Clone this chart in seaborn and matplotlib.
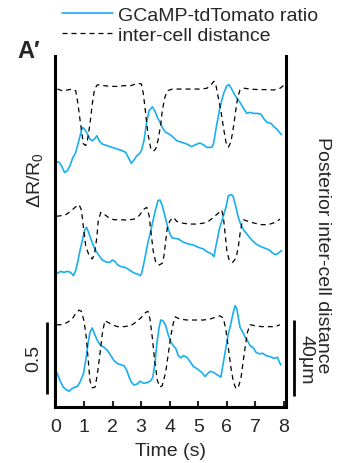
import numpy as np
import matplotlib
matplotlib.use("Agg")
import matplotlib.pyplot as plt
import matplotlib.transforms as mtransforms
from matplotlib.lines import Line2D
import seaborn as sns

# three stacked recordings: GCaMP-tdTomato ratio (dR/R0) and inter-cell distance (um, change from rest)
t_ratio1 = [0.01, 0.13, 0.21, 0.32, 0.42, 0.51, 0.59, 0.71, 0.79, 0.88, 0.94, 1.02, 1.12, 1.21, 1.29, 1.37,
            1.45, 1.53, 1.64, 1.82, 1.99, 2.17, 2.34, 2.46, 2.58, 2.66, 2.75, 2.85, 2.93, 3.01, 3.10, 3.20,
            3.28, 3.39, 3.48, 3.57, 3.66, 3.74, 3.86, 3.98, 4.13, 4.25, 4.42, 4.60, 4.77, 4.89, 5.06, 5.18,
            5.30, 5.47, 5.53, 5.65, 5.76, 5.88, 6.00, 6.08, 6.17, 6.29, 6.46, 6.60, 6.70, 6.81, 6.93, 7.07,
            7.19, 7.30, 7.40, 7.54, 7.65, 7.75, 7.84, 7.91]
ratio1 = [0.123, 0.116, 0.093, 0.046, 0.058, 0.093, 0.139, 0.185, 0.243, 0.313, 0.359, 0.347, 0.313, 0.278,
          0.266, 0.278, 0.301, 0.266, 0.243, 0.231, 0.220, 0.208, 0.197, 0.185, 0.139, 0.109, 0.132, 0.162,
          0.174, 0.197, 0.266, 0.405, 0.474, 0.502, 0.474, 0.428, 0.394, 0.359, 0.324, 0.313, 0.289, 0.266,
          0.255, 0.243, 0.225, 0.238, 0.250, 0.238, 0.220, 0.220, 0.243, 0.382, 0.498, 0.590, 0.648, 0.655,
          0.625, 0.579, 0.532, 0.486, 0.456, 0.463, 0.456, 0.456, 0.451, 0.417, 0.394, 0.387, 0.363, 0.347,
          0.324, 0.308]
t_dist1 = [0.07, 0.24, 0.42, 0.59, 0.71, 0.79, 0.88, 0.98, 1.06, 1.12, 1.21, 1.29, 1.37, 1.47, 1.70, 1.94,
           2.17, 2.40, 2.64, 2.87, 3.01, 3.08, 3.16, 3.24, 3.34, 3.43, 3.51, 3.59, 3.69, 3.74, 3.83, 3.92,
           4.09, 4.36, 4.71, 5.06, 5.30, 5.47, 5.55, 5.62, 5.70, 5.79, 5.88, 5.97, 6.05, 6.14, 6.23, 6.31,
           6.38, 6.46, 6.58, 6.81, 7.10, 7.40, 7.63, 7.86, 7.98]
dist1 = [-1.6, -2.5, -2.1, -1.6, -2.5, -9.5, -20.0, -30.5, -31.4, -28.8, -20.0, -9.5, -1.6, 0.7, 0.2, -0.2,
         -0.2, 0.2, 0.2, 1.4, 1.1, -4.2, -14.7, -25.3, -33.2, -34.4, -33.2, -28.8, -20.0, -13.0, -6.0, -2.5,
         -1.6, -1.6, -1.6, -1.6, -1.2, 1.1, 2.5, 0.2, -6.0, -13.0, -21.8, -29.7, -32.3, -29.7, -21.8, -13.0,
         -6.0, -2.1, -1.1, -1.6, -1.9, -1.9, -2.1, -1.2, 0.2]

t_ratio2 = [0.00, 0.07, 0.18, 0.30, 0.42, 0.53, 0.63, 0.71, 0.79, 0.86, 0.94, 1.02, 1.09, 1.16, 1.24, 1.33,
            1.41, 1.53, 1.64, 1.80, 1.91, 1.99, 2.08, 2.17, 2.29, 2.43, 2.54, 2.66, 2.78, 2.87, 2.96, 3.01,
            3.08, 3.16, 3.24, 3.34, 3.43, 3.51, 3.59, 3.66, 3.74, 3.83, 3.92, 4.01, 4.09, 4.30, 4.48, 4.65,
            4.83, 5.00, 5.18, 5.30, 5.47, 5.55, 5.62, 5.74, 5.86, 5.97, 6.05, 6.17, 6.23, 6.32, 6.40, 6.49,
            6.60, 6.72, 6.87, 7.02, 7.19, 7.34, 7.49, 7.57, 7.69, 7.80, 7.91]
ratio2 = [0.053, 0.039, 0.053, 0.046, 0.053, 0.046, 0.023, 0.058, 0.127, 0.197, 0.266, 0.336, 0.359, 0.324,
          0.278, 0.231, 0.197, 0.162, 0.132, 0.116, 0.116, 0.132, 0.123, 0.099, 0.086, 0.081, 0.069, 0.053,
          0.039, 0.035, 0.023, 0.035, 0.093, 0.174, 0.255, 0.336, 0.417, 0.486, 0.544, 0.549, 0.509, 0.440,
          0.370, 0.313, 0.285, 0.278, 0.255, 0.243, 0.236, 0.220, 0.208, 0.190, 0.174, 0.155, 0.231, 0.347,
          0.428, 0.498, 0.579, 0.586, 0.567, 0.498, 0.428, 0.377, 0.336, 0.308, 0.271, 0.243, 0.225, 0.213,
          0.201, 0.185, 0.169, 0.178, 0.197]
t_dist2 = [0.04, 0.18, 0.36, 0.53, 0.71, 0.83, 0.91, 0.98, 1.06, 1.18, 1.29, 1.37, 1.45, 1.50, 1.59, 1.70,
           1.88, 2.05, 2.29, 2.52, 2.75, 2.93, 3.10, 3.20, 3.28, 3.34, 3.42, 3.51, 3.63, 3.74, 3.80, 3.86,
           3.92, 4.01, 4.13, 4.25, 4.48, 4.71, 4.95, 5.18, 5.35, 5.53, 5.70, 5.82, 5.88, 5.94, 6.00, 6.09,
           6.21, 6.32, 6.40, 6.46, 6.52, 6.58, 6.75, 6.99, 7.22, 7.45, 7.69, 7.86]
dist2 = [0.4, 0.7, 1.2, 3.0, 5.4, 6.5, 3.7, -5.4, -15.1, -20.4, -22.1, -19.5, -10.7, -1.9, 2.5, 1.6,
         -0.5, -1.4, -1.4, -1.6, -1.1, 0.7, 4.2, 5.1, 0.7, -7.2, -17.7, -23.8, -25.3, -24.4, -20.4, -12.5,
         -5.4, -1.9, -0.2, -2.3, -3.3, -3.7, -3.7, -3.2, -2.3, -0.2, 2.1, 3.7, -0.2, -8.9, -17.7, -23.3,
         -23.8, -21.6, -16.0, -8.9, -3.7, -1.4, -2.3, -3.3, -4.0, -4.0, -2.8, -1.1]

t_ratio3 = [0.00, 0.07, 0.16, 0.28, 0.39, 0.48, 0.56, 0.67, 0.77, 0.86, 0.98, 1.06, 1.14, 1.21, 1.29, 1.37,
            1.47, 1.59, 1.70, 1.82, 1.94, 2.05, 2.19, 2.29, 2.40, 2.50, 2.58, 2.66, 2.75, 2.87, 2.96, 3.08,
            3.22, 3.34, 3.41, 3.48, 3.55, 3.63, 3.69, 3.78, 3.86, 3.94, 4.04, 4.13, 4.22, 4.30, 4.39, 4.48,
            4.60, 4.69, 4.83, 4.97, 5.12, 5.24, 5.32, 5.41, 5.53, 5.65, 5.79, 5.88, 5.97, 6.05, 6.14, 6.21,
            6.29, 6.35, 6.40, 6.46, 6.56, 6.64, 6.72, 6.81, 6.93, 7.02, 7.14, 7.26, 7.37, 7.51, 7.65, 7.77,
            7.84, 7.89]
ratio3 = [0.197, 0.174, 0.127, 0.081, 0.063, 0.053, 0.069, 0.081, 0.086, 0.116, 0.174, 0.266, 0.382, 0.463,
          0.493, 0.451, 0.405, 0.370, 0.359, 0.336, 0.301, 0.266, 0.243, 0.238, 0.231, 0.197, 0.151, 0.116,
          0.097, 0.104, 0.123, 0.109, 0.113, 0.127, 0.151, 0.243, 0.382, 0.498, 0.549, 0.539, 0.509, 0.451,
          0.394, 0.370, 0.347, 0.301, 0.285, 0.301, 0.289, 0.266, 0.225, 0.208, 0.185, 0.155, 0.174, 0.192,
          0.185, 0.169, 0.151, 0.255, 0.359, 0.451, 0.521, 0.590, 0.648, 0.625, 0.567, 0.498, 0.463, 0.428,
          0.405, 0.370, 0.354, 0.324, 0.313, 0.317, 0.301, 0.294, 0.282, 0.289, 0.255, 0.236]
t_dist3 = [0.04, 0.24, 0.42, 0.59, 0.71, 0.83, 0.91, 1.00, 1.08, 1.15, 1.21, 1.29, 1.39, 1.47, 1.56, 1.64,
           1.73, 1.84, 1.99, 2.17, 2.40, 2.64, 2.81, 3.01, 3.16, 3.24, 3.31, 3.39, 3.48, 3.57, 3.66, 3.74,
           3.86, 3.95, 4.04, 4.12, 4.19, 4.36, 4.60, 4.89, 5.18, 5.41, 5.65, 5.76, 5.88, 5.97, 6.05, 6.14,
           6.23, 6.32, 6.40, 6.49, 6.56, 6.64, 6.72, 6.81, 6.99, 7.22, 7.45, 7.69, 7.86]
dist3 = [-0.9, -0.9, 0.4, 2.1, 5.1, 6.8, 6.2, 1.2, -7.5, -19.8, -30.4, -34.2, -33.8, -26.8, -16.3, -5.8,
         1.2, 0.4, -0.9, -1.9, -1.9, -1.4, 0.4, 3.0, 5.6, 6.2, 2.1, -7.5, -20.7, -30.4, -33.8, -33.0,
         -25.9, -16.3, -6.7, -0.5, 3.3, 2.1, 1.6, 1.6, 1.6, 2.1, 3.3, 3.8, 2.6, -4.0, -12.8, -23.3,
         -31.2, -34.7, -33.8, -29.5, -21.6, -12.8, -4.9, -0.9, -1.4, -1.9, -1.9, -1.9, -0.9]

x_ticks = [0, 1, 2, 3, 4, 5, 6, 7, 8]

blue = "#1AAEF0"
dist_scale = 0.5 / 38.0          # um -> dR/R0 units on the shared axis
ratio_offsets = [1.583, 0.889, 0.056]
dist_offsets = [2.229, 1.319, 0.583]

sns.set_style("white")
plt.rcParams['font.family'] = ['Liberation Sans', 'DejaVu Sans']

W, H = 339, 464
fig = plt.figure(figsize=(W / 100, H / 100), dpi=100)
ax = fig.add_axes([55 / W, 1 - 408 / H, (286 - 55) / W, (408 - 57) / H])

rows = [(t_ratio1, ratio1, t_dist1, dist1),
        (t_ratio2, ratio2, t_dist2, dist2),
        (t_ratio3, ratio3, t_dist3, dist3)]
for i, (tr, r, td, d) in enumerate(rows):
    sns.lineplot(x=np.array(tr), y=np.array(r) + ratio_offsets[i], ax=ax, color=blue,
                 linewidth=1.2, estimator=None, sort=False)
    sns.lineplot(x=np.array(td), y=np.array(d) * dist_scale + dist_offsets[i], ax=ax, color="black",
                 linewidth=0.9, linestyle=(0, (4.0, 3.2)), estimator=None, sort=False)

ax.set_xlim(-0.014, 8.07)
ax.set_ylim(0, 351 / 144)
ax.set_xticks(x_ticks)
ax.set_xticklabels([str(v) for v in x_ticks], fontsize=14)
ax.set_yticks([])
ax.tick_params(axis="x", direction="in", length=4, width=1.5, pad=8, bottom=True)
for s in ["left", "right", "bottom"]:
    ax.spines[s].set_linewidth(2.2)
    ax.spines[s].set_color("black")
ax.spines["top"].set_visible(False)
ax.set_xlabel("Time (s)", fontsize=14, labelpad=5)
ax.set_ylabel("")

# scale bars
tr_l = mtransforms.blended_transform_factory(ax.transAxes, ax.transData)
ax.plot([-0.035, -0.035], [0.090, 0.090 + 0.5], transform=tr_l, color="black", lw=2.0,
        clip_on=False, solid_capstyle="butt")
ax.plot([1.035, 1.035], [0.076, 0.076 + 40 * dist_scale], transform=tr_l, color="black", lw=2.0,
        clip_on=False, solid_capstyle="butt")

fig.text(34 / W, 1 - 358 / H, "0.5", rotation=90, fontsize=14, ha="center", va="center")
fig.text(306 / W, 1 - 360 / H, "40\u03bcm", rotation=-90, fontsize=14, ha="center", va="center")
fig.text(35 / W, 1 - 180 / H, r"$\mathregular{\Delta R/R_0}$", rotation=90, fontsize=14,
         ha="center", va="center")
fig.text(323 / W, 1 - 255 / H, "Posterior inter-cell distance", rotation=-90, fontsize=14,
         ha="center", va="center")
fig.text(29 / W, 1 - 51 / H, "A\u2032", fontsize=17, fontweight="bold", ha="center", va="center")

handles = [Line2D([], [], color=blue, lw=1.2),
           Line2D([], [], color="black", lw=0.9, linestyle=(0, (4.0, 3.2)))]
fig.legend(handles, ["GCaMP-tdTomato ratio", "inter-cell distance"], loc="upper left",
           bbox_to_anchor=(62 / W, 1 - 7 / H), frameon=False, fontsize=14, borderpad=0,
           borderaxespad=0, handlelength=2.6, handletextpad=0.3, labelspacing=0.12)

fig.savefig("out.png", dpi=100)
